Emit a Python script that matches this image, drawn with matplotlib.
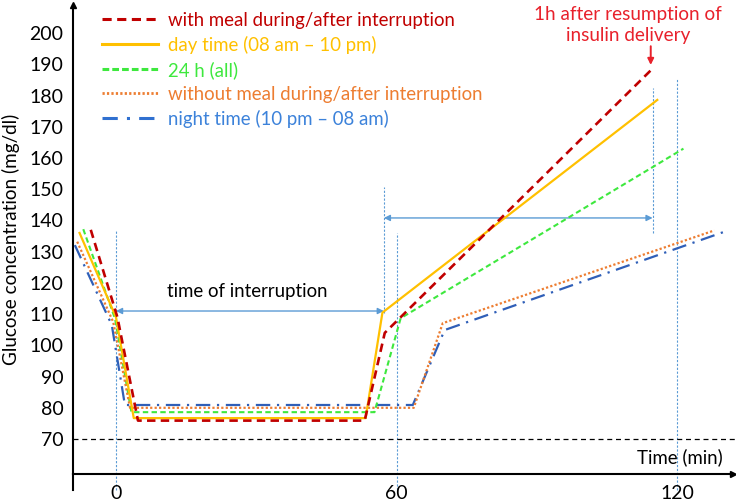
import matplotlib as mpl
mpl.use("Agg")
import matplotlib.pyplot as plt
from matplotlib.lines import Line2D

plt.rcParams["font.family"] = ["Lato", "DejaVu Sans"]

# ---- data ----
MEAL_X   = [-5.4, 0.3, 4.7, 53.2, 57.5, 114.7]
MEAL_Y   = [137.0, 109.0, 75.9, 75.9, 104.0, 188.5]
DAY_X    = [-7.8, 0.0, 3.8, 53.4, 57.0, 115.8]
DAY_Y    = [136.0, 109.0, 76.7, 76.7, 110.5, 178.6]
ALL_X    = [-7.0, -0.2, 3.3, 55.3, 60.9, 121.4]
ALL_Y    = [137.2, 108.5, 78.6, 78.6, 108.7, 163.0]
NOMEAL_X = [-8.3, -0.6, 3.0, 63.7, 69.9, 128.0]
NOMEAL_Y = [133.2, 107.5, 80.0, 80.0, 107.1, 136.8]
NIGHT_X  = [-8.8, -0.9, 1.9, 63.5, 70.3, 130.0]
NIGHT_Y  = [132.1, 106.5, 80.9, 80.9, 104.9, 136.3]

LABELS = ["with meal during/after interruption",
          "day time (08 am \u2013 10 pm)",
          "24 h (all)",
          "without meal during/after interruption",
          "night time (10 pm \u2013 08 am)"]

Y_TICKS = list(range(70, 201, 10))
X_TICKS = [0, 60, 120]
HYPO = 70

C_MEAL   = "#C00000"
C_DAY    = "#FFC000"
C_ALL    = "#3EE83E"
C_NOMEAL = "#ED7D31"
C_NIGHT  = "#2F5FB8"
C_NIGHT_TXT = "#3C82DA"
C_GUIDE  = "#5B9BD5"
C_NOTE   = "#E8212B"

FS = 13.4

fig = plt.figure(figsize=(7.36, 5.03), dpi=100)
ax = fig.add_axes([73 / 736, 29 / 503, 660 / 736, 469 / 503])
ax.set_xlim(-9.2, 132.0)
ax.set_ylim(58.8, 209.0)

for s in ("top", "right"):
    ax.spines[s].set_visible(False)
for s in ("left", "bottom"):
    ax.spines[s].set_linewidth(1.5)
ax.plot([-9.2, -9.2], [53.7, 58.8], color="black", lw=1.5, clip_on=False)
ax.plot(1, 0, ">", color="black", ms=5, transform=ax.transAxes, clip_on=False)
ax.plot(0, 1, "^", color="black", ms=5, transform=ax.transAxes, clip_on=False)

ax.set_yticks(Y_TICKS)
ax.set_xticks(X_TICKS)
ax.tick_params(axis="both", length=0, labelsize=14)
ax.tick_params(axis="y", pad=7)
ax.tick_params(axis="x", pad=8)
ax.set_ylabel("Glucose concentration (mg/dl)", fontsize=13.6)
ax.yaxis.set_label_coords(-0.080, 0.5)

# hypoglycaemia threshold
ax.plot([-9.2, 132.6], [HYPO, HYPO], color="black", lw=0.9,
        dashes=(4, 3), clip_on=False)

# guide lines
guide = dict(color=C_GUIDE, lw=0.8, dashes=(2, 1.5), clip_on=False, zorder=1)
ax.plot([0, 0], [53.7, 136.9], **guide)
ax.plot([60.1, 60.1], [53.7, 136.0], **guide)
ax.plot([57.3, 57.3], [110.3, 150.7], **guide)
ax.plot([114.8, 114.8], [136.0, 182.4], **guide)
ax.plot([120, 120], [53.7, 185.6], **guide)

arr = dict(arrowstyle="<|-|>", color=C_GUIDE, lw=1.0,
           mutation_scale=9, shrinkA=0, shrinkB=0)
ax.annotate("", xy=(0, 111.0), xytext=(57.3, 111.0), arrowprops=arr)
ax.annotate("", xy=(57.3, 140.8), xytext=(114.8, 140.8), arrowprops=arr)

# curves
ax.plot(MEAL_X, MEAL_Y, color=C_MEAL, lw=1.9, dashes=(3.2, 2.0), zorder=5)
ax.plot(DAY_X, DAY_Y, color=C_DAY, lw=1.6, zorder=4)
ax.plot(ALL_X, ALL_Y, color=C_ALL, lw=1.5, dashes=(2.6, 1.6), zorder=3)
ax.plot(NOMEAL_X, NOMEAL_Y, color=C_NOMEAL, lw=1.6, dashes=(1, 1), zorder=3)
ax.plot(NIGHT_X, NIGHT_Y, color=C_NIGHT, lw=1.6, dashes=(6.5, 3, 1, 3), zorder=2)

# annotations
ax.text(28.0, 117.1, "time of interruption", fontsize=FS,
        ha="center", va="center")
ax.text(129.8, 64.2, "Time (min)", fontsize=FS, ha="right", va="center")
ax.text(109.5, 202.6, "1h after resumption of\ninsulin delivery",
        color=C_NOTE, fontsize=13.6, ha="center", va="center", linespacing=1.3)
ax.annotate("", xy=(114.4, 189.8), xytext=(114.4, 195.8),
            arrowprops=dict(arrowstyle="-|>", color=C_NOTE, lw=1.4,
                            mutation_scale=9, shrinkA=0, shrinkB=0))

# legend
handles = [Line2D([], [], color=C_MEAL, lw=2.2, dashes=(3, 1.8)),
           Line2D([], [], color=C_DAY, lw=2.2),
           Line2D([], [], color=C_ALL, lw=2.2, dashes=(2.2, 1.0)),
           Line2D([], [], color=C_NOMEAL, lw=2.0, dashes=(0.8, 0.8)),
           Line2D([], [], color="#3070D0", lw=2.2, dashes=(5, 3, 1, 3))]
leg = fig.legend(handles, LABELS, loc="upper left",
                 bbox_to_anchor=(102 / 736, 1 - 12 / 503), frameon=False,
                 fontsize=FS, handlelength=3.0, handletextpad=0.55,
                 labelspacing=0.37, borderaxespad=0, borderpad=0)
for t, c in zip(leg.get_texts(), [C_MEAL, C_DAY, C_ALL, C_NOMEAL, C_NIGHT_TXT]):
    t.set_color(c)

fig.savefig("out.png", dpi=100)
